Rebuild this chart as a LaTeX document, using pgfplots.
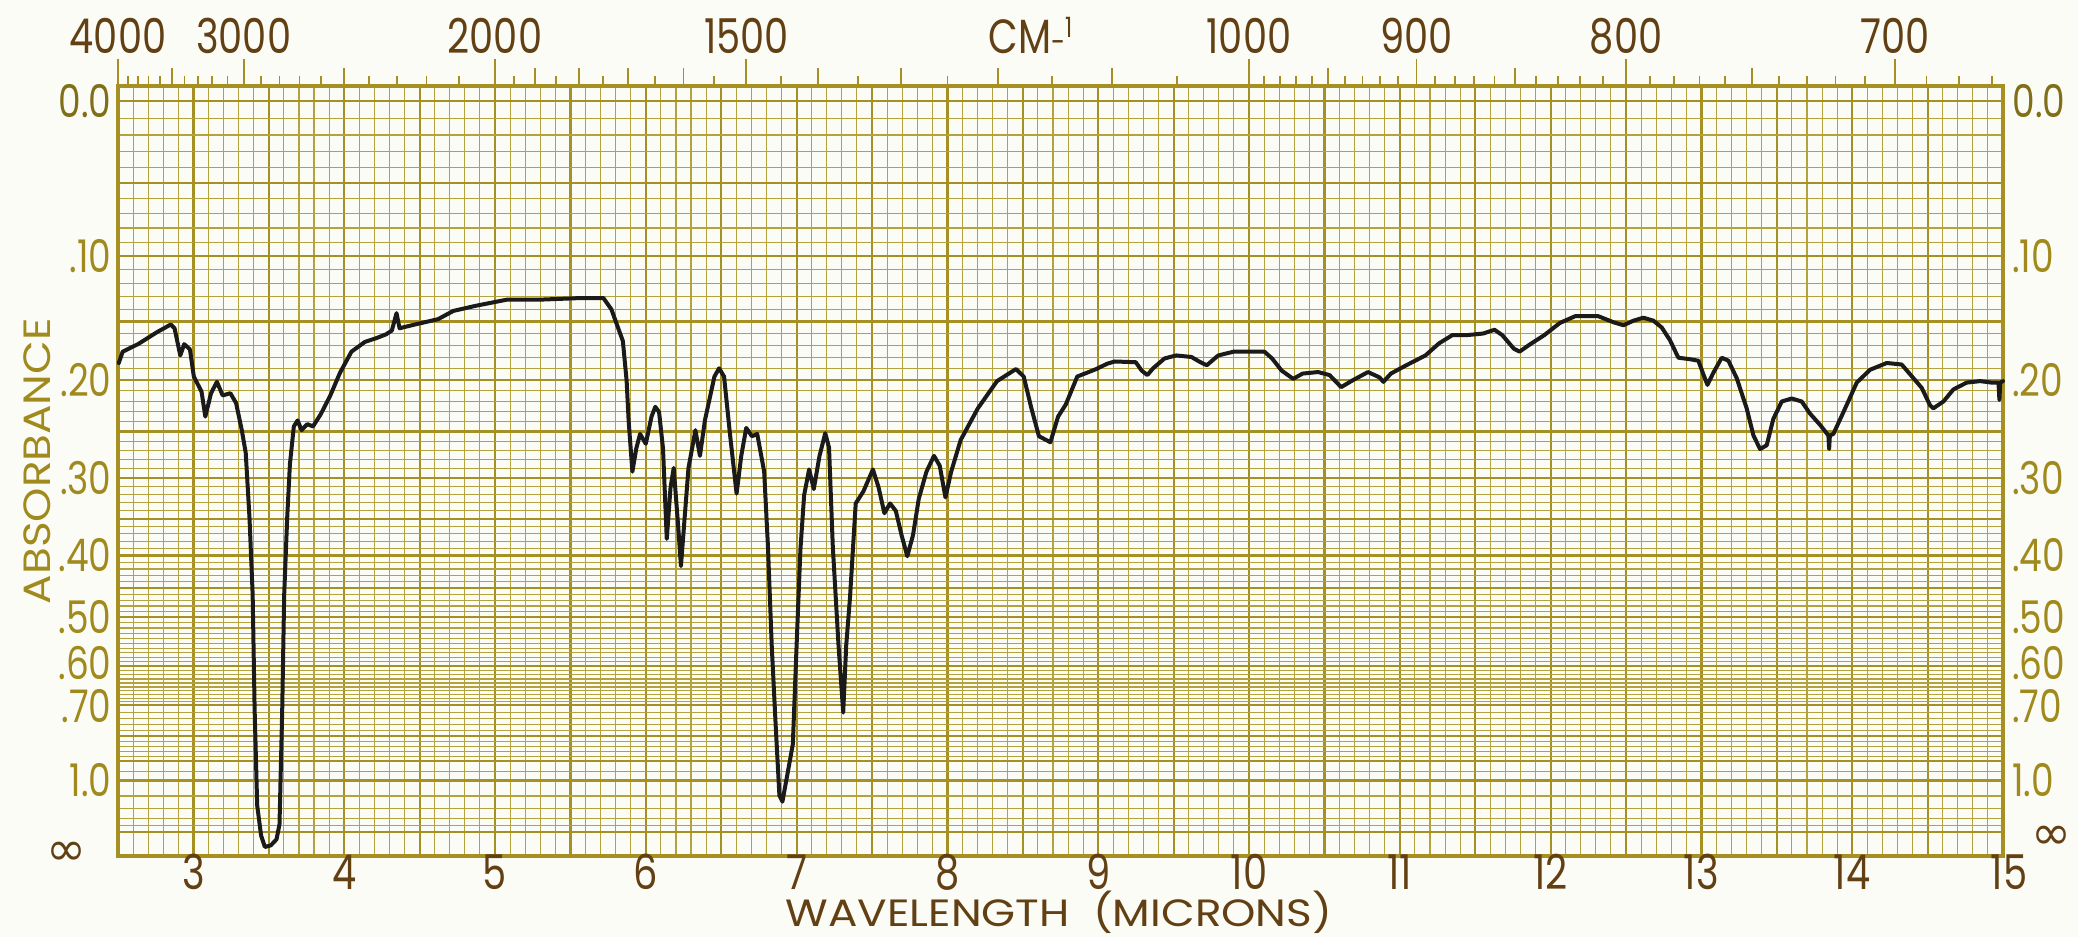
\documentclass[border=0pt]{standalone}
\usepackage{fontspec}
\setmainfont{Poppins}[FakeStretch=0.8]
\newfontfamily\widefont{Poppins}[FakeStretch=1.15]
\newfontfamily\symfont{DejaVu Sans}
\usepackage{pgfplots}
\usepackage{pgfplotstable}
\pgfplotsset{compat=1.18}
\definecolor{paper}{RGB}{252,252,246}
\definecolor{gridc}{RGB}{166,144,36}
\definecolor{gridm}{RGB}{180,162,62}
\definecolor{brownt}{RGB}{98,64,20}
\definecolor{olivet}{RGB}{160,138,30}
\definecolor{ink}{RGB}{26,26,26}
\newcommand\numfont{\fontsize{24}{24}\selectfont}
\newcommand\ylabfont{\fontsize{22.5}{22.5}\selectfont}
\newcommand\labfont{\widefont\fontsize{19}{19}\selectfont}

% wavelength (microns) vs. chart position (transmittance fraction, 10^{-absorbance})
\pgfplotstableread{
lambda T
2.505 0.653
2.531 0.668
2.633 0.678
2.760 0.694
2.850 0.704
2.875 0.699
2.913 0.663
2.939 0.678
2.977 0.671
3.003 0.635
3.054 0.615
3.079 0.582
3.117 0.613
3.156 0.628
3.194 0.610
3.245 0.613
3.283 0.600
3.321 0.564
3.347 0.534
3.372 0.448
3.393 0.346
3.406 0.194
3.423 0.067
3.449 0.027
3.474 0.012
3.513 0.014
3.551 0.022
3.571 0.042
3.589 0.194
3.602 0.346
3.622 0.448
3.640 0.519
3.666 0.569
3.691 0.577
3.717 0.564
3.755 0.572
3.793 0.569
3.844 0.585
3.908 0.610
3.972 0.640
4.048 0.668
4.138 0.681
4.214 0.686
4.278 0.691
4.316 0.696
4.347 0.719
4.367 0.699
4.469 0.704
4.622 0.711
4.724 0.722
4.878 0.729
5.082 0.737
5.311 0.737
5.566 0.739
5.719 0.739
5.772 0.724
5.848 0.682
5.873 0.629
5.886 0.577
5.911 0.509
5.937 0.540
5.962 0.559
6.000 0.546
6.038 0.582
6.063 0.595
6.088 0.588
6.114 0.540
6.139 0.420
6.164 0.488
6.185 0.514
6.215 0.436
6.233 0.384
6.253 0.436
6.283 0.514
6.329 0.564
6.359 0.530
6.392 0.577
6.455 0.635
6.486 0.646
6.519 0.635
6.557 0.561
6.602 0.480
6.633 0.530
6.666 0.567
6.704 0.556
6.739 0.559
6.785 0.509
6.810 0.410
6.835 0.279
6.861 0.174
6.886 0.080
6.906 0.072
6.937 0.106
6.975 0.148
7.000 0.279
7.025 0.405
7.050 0.478
7.083 0.512
7.114 0.486
7.152 0.530
7.190 0.560
7.215 0.541
7.240 0.410
7.278 0.279
7.309 0.190
7.329 0.279
7.354 0.342
7.392 0.467
7.443 0.483
7.506 0.512
7.544 0.488
7.582 0.454
7.620 0.467
7.658 0.457
7.696 0.425
7.734 0.397
7.772 0.425
7.810 0.473
7.861 0.509
7.911 0.530
7.949 0.517
7.987 0.475
8.025 0.509
8.088 0.551
8.202 0.593
8.329 0.629
8.455 0.645
8.506 0.635
8.557 0.593
8.607 0.556
8.683 0.548
8.734 0.582
8.785 0.598
8.861 0.635
8.987 0.645
9.059 0.652
9.109 0.655
9.249 0.654
9.288 0.643
9.326 0.637
9.364 0.646
9.440 0.659
9.517 0.663
9.618 0.661
9.669 0.655
9.720 0.650
9.796 0.663
9.898 0.668
10.000 0.668
10.102 0.668
10.153 0.659
10.216 0.643
10.293 0.632
10.356 0.639
10.458 0.641
10.534 0.637
10.611 0.621
10.687 0.630
10.789 0.641
10.865 0.634
10.891 0.628
10.941 0.639
11.043 0.650
11.170 0.663
11.260 0.679
11.349 0.690
11.450 0.690
11.552 0.692
11.628 0.697
11.679 0.690
11.756 0.672
11.794 0.668
11.858 0.677
11.959 0.690
12.061 0.706
12.163 0.715
12.316 0.715
12.416 0.707
12.483 0.703
12.549 0.709
12.615 0.713
12.682 0.709
12.737 0.700
12.792 0.683
12.847 0.660
12.925 0.658
12.980 0.656
13.013 0.638
13.040 0.624
13.079 0.640
13.135 0.660
13.179 0.656
13.234 0.633
13.300 0.593
13.345 0.557
13.389 0.539
13.433 0.544
13.477 0.579
13.533 0.602
13.599 0.606
13.665 0.602
13.720 0.586
13.787 0.571
13.842 0.557
13.847 0.539
13.852 0.557
13.875 0.559
13.942 0.588
14.030 0.627
14.118 0.644
14.229 0.653
14.328 0.651
14.384 0.638
14.461 0.620
14.516 0.597
14.538 0.593
14.605 0.602
14.671 0.618
14.759 0.627
14.848 0.629
14.925 0.627
14.970 0.627
14.976 0.604
14.982 0.627
15.000 0.629
}\spectrum

\begin{document}
\begin{tikzpicture}
\fill[paper] (0,0) rectangle (1039pt,468.5pt);
\useasboundingbox (0,0) rectangle (1039pt,468.5pt);
\begin{axis}[
  at={(59pt,40.5pt)}, anchor=south west,
  scale only axis, width=942.5pt, height=385pt,
  xmin=2.5, xmax=15, ymin=0, ymax=1.0199,
  clip=false,
  axis line style={draw=gridc, line width=1.8pt},
  xtick={2.5,3,...,15}, minor x tick num=4,
  ytick={0,0.03162,0.1,0.12589,0.15849,0.19953,0.25119,0.31623,0.35481,0.39811,0.44668,0.50119,0.56234,0.63096,0.70795,0.79433,0.89125,1},
  minor ytick={0.03981,0.05012,0.06310,0.07943,0.11220,0.13183,0.13804,0.14454,0.15136,0.16596,0.17378,0.18197,0.19055,0.20417,0.20893,0.21380,0.21878,0.22387,0.22909,0.23442,0.23988,0.24547,0.25704,0.26303,0.26915,0.27542,0.28184,0.28840,0.29512,0.30200,0.30903,0.32359,0.33113,0.33884,0.34674,0.36308,0.37154,0.38019,0.38905,0.40738,0.41687,0.42658,0.43652,0.45709,0.46774,0.47863,0.48978,0.51286,0.52481,0.53703,0.54954,0.57544,0.58884,0.60256,0.61660,0.64565,0.66069,0.67608,0.69183,0.72444,0.74131,0.75858,0.77625,0.81283,0.83176,0.85114,0.87096,0.91201,0.93325,0.95499,0.97724},
  xticklabels={}, yticklabels={},
  grid=both,
  major grid style={draw=gridc, line width=1.1pt},
  minor grid style={draw=gridm, line width=0.55pt},
  major tick length=0pt, minor tick length=0pt,
]
\addplot[ink, line width=2pt, line join=round, line cap=round] table[x=lambda,y=T] {\spectrum};

% left absorbance labels
\begin{scope}[every node/.style={anchor=east, inner sep=0pt, text=olivet, font=\ylabfont}]
\node[xshift=-3pt, text=olivet!80!black] at (axis cs:2.5,1) {0.0};
\node[xshift=-3pt] at (axis cs:2.5,0.79433) {.10};
\node[xshift=-3pt] at (axis cs:2.5,0.63096) {.20};
\node[xshift=-3pt] at (axis cs:2.5,0.50119) {.30};
\node[xshift=-3pt] at (axis cs:2.5,0.39811) {.40};
\node[xshift=-3pt] at (axis cs:2.5,0.31623) {.50};
\node[xshift=-3pt, yshift=1.5pt] at (axis cs:2.5,0.25119) {.60};
\node[xshift=-3pt, yshift=-0.5pt] at (axis cs:2.5,0.19953) {.70};
\node[xshift=-3pt] at (axis cs:2.5,0.1) {1.0};
\end{scope}
\node[inner sep=0pt, text=brownt, font=\symfont\fontsize{24}{24}\selectfont, xshift=-26pt, yshift=1pt] at (axis cs:2.5,0) {∞};
% right absorbance labels
\begin{scope}[every node/.style={anchor=west, inner sep=0pt, text=olivet, font=\ylabfont}]
\node[xshift=4.5pt, text=olivet!80!black] at (axis cs:15,1) {0.0};
\node[xshift=4.5pt] at (axis cs:15,0.79433) {.10};
\node[xshift=4.5pt] at (axis cs:15,0.63096) {.20};
\node[xshift=4.5pt] at (axis cs:15,0.50119) {.30};
\node[xshift=4.5pt] at (axis cs:15,0.39811) {.40};
\node[xshift=4.5pt] at (axis cs:15,0.31623) {.50};
\node[xshift=4.5pt, yshift=1.5pt] at (axis cs:15,0.25119) {.60};
\node[xshift=4.5pt, yshift=-0.5pt] at (axis cs:15,0.19953) {.70};
\node[xshift=4.5pt] at (axis cs:15,0.1) {1.0};
\end{scope}
\node[inner sep=0pt, text=brownt, font=\symfont\fontsize{24}{24}\selectfont, xshift=24pt, yshift=9pt] at (axis cs:15,0) {∞};
% ABSORBANCE title
\node[xshift=-40.5pt, rotate=90, inner sep=0pt, text=olivet, font=\labfont] at (axis cs:2.5,0.523) {ABSORBANCE};

% bottom wavelength labels
\begin{scope}[every node/.style={anchor=base, inner sep=0pt, text=brownt, font=\numfont, yshift=-17pt}]
\node at (axis cs:3,0) {3};
\node at (axis cs:4,0) {4};
\node at (axis cs:5,0) {5};
\node at (axis cs:6,0) {6};
\node at (axis cs:7,0) {7};
\node at (axis cs:8,0) {8};
\node at (axis cs:9,0) {9};
\node at (axis cs:10,0) {10};
\node at (axis cs:11,0) {11};
\node at (axis cs:12,0) {12};
\node at (axis cs:13,0) {13};
\node at (axis cs:14,0) {14};
\node[xshift=3pt] at (axis cs:15,0) {15};
\end{scope}
\node[anchor=base, inner sep=0pt, text=brownt, font=\labfont, yshift=-35.3pt] at (axis cs:8.74,0) {WAVELENGTH\ \ (MICRONS)};

% top wavenumber labels
\begin{scope}[every node/.style={anchor=base, inner sep=0pt, text=brownt, font=\numfont, yshift=16pt}]
\node at (axis cs:2.5,1.0199) {4000};
\node at (axis cs:3.33333,1.0199) {3000};
\node at (axis cs:5,1.0199) {2000};
\node at (axis cs:6.66667,1.0199) {1500};
\node at (axis cs:10,1.0199) {1000};
\node at (axis cs:11.11111,1.0199) {900};
\node at (axis cs:12.5,1.0199) {800};
\node at (axis cs:14.28571,1.0199) {700};
\node at (axis cs:8.55,1.0199) {CM{\fontsize{16}{16}\selectfont -}\raisebox{8pt}{\fontsize{14}{14}\selectfont 1}};
\end{scope}
\end{axis}

% top wavenumber tick marks
\begin{axis}[
  at={(59pt,40.5pt)}, anchor=south west,
  scale only axis, width=942.5pt, height=385pt,
  xmin=2.5, xmax=15, ymin=0, ymax=1.0199,
  axis x line*=top, axis y line=none,
  x axis line style={draw=gridc, line width=1.8pt, -},
  xtick={2.5,3.33333,5,6.66667,10,11.11111,12.5,14.28571},
  xticklabels={},
  extra x ticks={2.85714,4,5.26316,5.55556,5.88235,6.25,7.14286,7.69231,8.33333,9.09091,10.52632,11.76471,13.33333},
  extra x tick labels={},
  extra x tick style={major tick length=9pt},
  minor xtick={2.5641,2.63158,2.7027,2.77778,2.94118,3.0303,3.125,3.22581,3.44828,3.57143,3.7037,3.84615,4.16667,4.34783,4.54545,4.7619,5.12821,5.40541,5.71429,6.06061,6.45161,6.89655,7.40741,8,8.69565,9.52381,10.10101,10.20408,10.30928,10.41667,10.6383,10.75269,10.86957,10.98901,11.23596,11.36364,11.49425,11.62791,11.90476,12.04819,12.19512,12.34568,12.65823,12.82051,12.98701,13.15789,13.51351,13.69863,13.88889,14.08451,14.49275,14.70588,14.92537},
  tick align=outside,
  major tick length=13.5pt, minor tick length=5pt,
  tick style={draw=gridc, line width=0.9pt},
]
\end{axis}
\end{tikzpicture}
\end{document}
